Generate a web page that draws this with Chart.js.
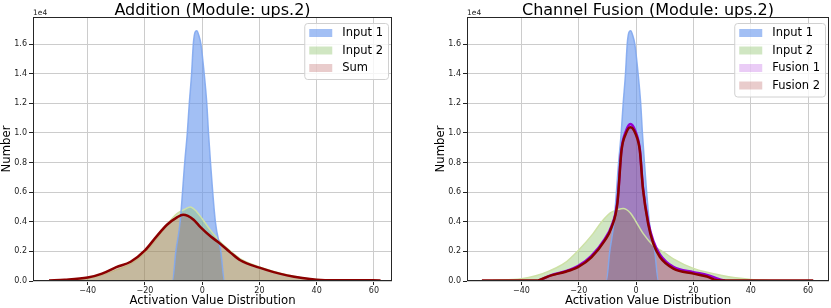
<!DOCTYPE html>
<html>
<head>
<meta charset="utf-8">
<script src="https://cdn.jsdelivr.net/npm/chart.js@4.4.1/dist/chart.umd.min.js"></script>
<style>
  html, body { margin: 0; padding: 0; background: #fff; }
  #wrap { position: relative; width: 831px; height: 308px; }
  .panel { position: absolute; top: 0; }
</style>
</head>
<body>
<div id="wrap">
  <div class="panel" style="left:0"><canvas id="chart-add" width="415" height="308"></canvas></div>
  <div class="panel" style="left:434px"><canvas id="chart-fusion" width="397" height="308"></canvas></div>
</div>
<script>
const xTicks = [-40, -20, 0, 20, 40, 60];
const yTicks = [0, 2000, 4000, 6000, 8000, 10000, 12000, 14000, 16000];

// Input 1 (same in both panels)
const input1X = [-40, -10.4, -9.2, -7.7, -6.1, -5.2, -4.5, -3.7, -3.1, -2.5, -1.9, -1.2, -0.45, 0.7, 1.6, 2.2, 2.9, 4.6, 6.5, 7.8, 40];
const input1Y = [0, 0, 2000, 4000, 8000, 10000, 12000, 14000, 16000, 16800, 16900, 16600, 16000, 14000, 12000, 10000, 8000, 4000, 2000, 0, 0];

// Addition panel
const addInput2X = [-48, -40, -35, -30, -25, -20, -16, -12.3, -8.8, -6, -4.2, -2, 0, 3, 6.3, 10, 13.3, 20, 25, 30, 35, 40, 45];
const addInput2Y = [30, 180, 400, 750, 1150, 1900, 2800, 3800, 4550, 4850, 5000, 4700, 4200, 3400, 2650, 2000, 1500, 950, 650, 400, 200, 100, 30];
const sumX = [-53.5, -48, -40, -35, -30, -25, -20, -16, -12.3, -8.8, -6.7, -5, -3, -0.6, 3, 6.3, 10, 13.3, 20, 25, 29.6, 35, 40, 46, 54, 62.3];
const sumY = [40, 80, 230, 500, 940, 1300, 2070, 3000, 3800, 4300, 4480, 4400, 4140, 3640, 3000, 2520, 1900, 1400, 900, 600, 380, 200, 90, 50, 50, 40];

// Channel fusion panel
const fusInput2X = [-50, -40, -35, -30, -25, -20, -15, -12, -9, -6, -4.5, -2, 0, 2.5, 6, 10, 13, 20, 30, 40, 47];
const fusInput2Y = [30, 150, 350, 700, 1200, 2100, 3200, 4000, 4600, 4850, 4900, 4600, 4000, 3200, 2400, 1900, 1500, 850, 370, 100, 20];
const fusion1X = [-34, -32, -29.6, -24.9, -20.3, -15.6, -10.9, -8.6, -6.5, -5.1, -3.6, -2, -0.2, 1.3, 2.4, 4.2, 6, 8.3, 13, 20, 25, 29, 31];
const fusion1Y = [30, 200, 400, 640, 1000, 1700, 2850, 3700, 5400, 8900, 10100, 10600, 10100, 8900, 6300, 4000, 2700, 1800, 950, 600, 400, 120, 30];
const fusion2X = [-53.8, -40, -34.3, -32, -29.6, -24.9, -20.3, -15.6, -10.9, -8.6, -6.5, -5.1, -3.6, -2, -0.2, 1.3, 2.4, 4.2, 6, 8.3, 13, 20, 24.7, 28.2, 35, 61.8];
const fusion2Y = [30, 30, 40, 200, 380, 610, 940, 1600, 2740, 3600, 5300, 8800, 9940, 10380, 9940, 8800, 6200, 3870, 2520, 1620, 840, 500, 300, 50, 30, 30];

const BLUE = 'rgba(100, 149, 237, 0.6)';
const GREEN = 'rgba(150, 200, 120, 0.45)';
const RED = 'rgba(165, 42, 42, 0.24)';
const VIOLET = 'rgba(148, 0, 211, 0.2)';

Chart.defaults.font.family = '"DejaVu Sans", sans-serif';

function pts(xs, ys) {
    return xs.map((x, i) => ({ x: x, y: ys[i] }));
}

function hist(label, xs, ys, color, order) {
    return {
        label: label, data: pts(xs, ys), order: order,
        fill: 'origin', backgroundColor: color,
        borderColor: 'rgba(0,0,0,0)', borderWidth: 0,
        pointRadius: 0, cubicInterpolationMode: 'monotone'
    };
}

function kde(xs, ys, color, width, order) {
    return {
        label: '', data: pts(xs, ys), order: order,
        fill: false, borderColor: color, borderWidth: width,
        pointRadius: 0, cubicInterpolationMode: 'monotone'
    };
}

function minus(v) {
    return v < 0 ? '\u2212' + Math.abs(v) : String(v);
}

// frame, offset text and boxed legend like matplotlib
const panelDecor = {
    id: 'panelDecor',
    afterDraw(chart, args, opts) {
        const ctx = chart.ctx;
        const a = chart.chartArea;
        ctx.save();
        ctx.strokeStyle = '#262626';
        ctx.lineWidth = 1;
        ctx.strokeRect(Math.round(a.left) + 0.5, Math.round(a.top) + 0.5,
            Math.round(a.right - a.left) - 1, Math.round(a.bottom - a.top) - 1);

        ctx.fillStyle = '#222';
        ctx.font = '7.5px "DejaVu Sans"';
        ctx.textAlign = 'left';
        ctx.textBaseline = 'alphabetic';
        ctx.fillText('1e4', a.left, a.top - 2);

        const items = opts.items;
        ctx.font = '11.5px "DejaVu Sans"';
        let tw = 0;
        items.forEach(it => { tw = Math.max(tw, ctx.measureText(it.label).width); });
        const w = 5 + 23 + 10 + tw + 5;
        const h = items.length * 17.5 + 3.5;
        const left = a.right - 4 - w;
        const top = a.top + 6;
        ctx.beginPath();
        ctx.roundRect(left + 0.5, top + 0.5, w, h, 3);
        ctx.fillStyle = 'rgba(255,255,255,0.8)';
        ctx.fill();
        ctx.strokeStyle = '#d0d0d0';
        ctx.stroke();
        ctx.textBaseline = 'middle';
        items.forEach((it, i) => {
            const cy = top + 10 + i * 17.5;
            ctx.fillStyle = it.color;
            ctx.fillRect(left + 5, cy - 4, 23, 8);
            ctx.fillStyle = '#000';
            ctx.fillText(it.label, left + 38, cy + 0.5);
        });
        ctx.restore();
    }
};

function makeOptions(title, xMin, xMax, padRight, items) {
    const tickFont = { size: 8 };
    return {
        responsive: false,
        animation: false,
        devicePixelRatio: 1,
        layout: { padding: { left: 0, right: padRight, top: 0, bottom: 0 } },
        plugins: {
            legend: { display: false },
            tooltip: { enabled: false },
            title: {
                display: true, text: title, color: '#000', fullSize: false,
                font: { size: 16, weight: 'normal', lineHeight: 0.8125 },
                padding: { top: 4, bottom: 0 }
            },
            panelDecor: { items: items }
        },
        scales: {
            x: {
                type: 'linear', min: xMin, max: xMax,
                afterBuildTicks: s => { s.ticks = xTicks.map(v => ({ value: v })); },
                afterFit: s => { s.height = 27; },
                border: { display: false },
                grid: { color: '#cccccc', tickColor: '#222', tickLength: 4 },
                ticks: { font: tickFont, color: '#222', padding: 1, autoSkip: false, maxRotation: 0, callback: v => minus(v) },
                title: { display: true, text: 'Activation Value Distribution', color: '#000', font: { size: 11.7 }, padding: 0 }
            },
            y: {
                min: 0, max: 17830,
                afterBuildTicks: s => { s.ticks = yTicks.map(v => ({ value: v })); },
                afterFit: s => { s.width = 33; },
                border: { display: false },
                grid: { color: '#cccccc', tickColor: '#222', tickLength: 4 },
                ticks: { font: tickFont, color: '#222', padding: 2, autoSkip: false, callback: v => (v / 1e4).toFixed(1) },
                title: { display: true, text: 'Number', color: '#000', font: { size: 11.7 }, padding: 0 }
            }
        }
    };
}

new Chart(document.getElementById('chart-add'), {
    type: 'line',
    data: {
        datasets: [
            hist('Input 1', input1X, input1Y, BLUE, 7),
            hist('Input 2', addInput2X, addInput2Y, GREEN, 6),
            kde(addInput2X, addInput2Y, 'rgba(205, 225, 165, 1)', 1.5, 5),
            hist('Sum', sumX, sumY, RED, 4),
            kde(input1X, input1Y, 'rgba(130, 168, 240, 0.9)', 1.5, 3),
            kde(sumX, sumY, '#8b0000', 2.5, 1)
        ]
    },
    options: makeOptions('Addition (Module: ups.2)', -59.1, 66.3, 23, [
        { label: 'Input 1', color: BLUE },
        { label: 'Input 2', color: GREEN },
        { label: 'Sum', color: RED }
    ]),
    plugins: [panelDecor]
});

new Chart(document.getElementById('chart-fusion'), {
    type: 'line',
    data: {
        datasets: [
            hist('Input 1', input1X, input1Y, BLUE, 9),
            hist('Input 2', fusInput2X, fusInput2Y, GREEN, 8),
            hist('Fusion 1', fusion1X, fusion1Y, VIOLET, 7),
            hist('Fusion 2', fusion2X, fusion2Y, RED, 6),
            kde(fusInput2X, fusInput2Y, 'rgba(205, 225, 165, 1)', 1.5, 5),
            kde(input1X, input1Y, 'rgba(130, 168, 240, 0.9)', 1.5, 4),
            kde(fusion1X, fusion1Y, '#9400d3', 2.5, 3),
            kde(fusion2X, fusion2Y, '#8b0000', 2.5, 1)
        ]
    },
    options: makeOptions('Channel Fusion (Module: ups.2)', -59.0, 67.3, 2, [
        { label: 'Input 1', color: BLUE },
        { label: 'Input 2', color: GREEN },
        { label: 'Fusion 1', color: VIOLET },
        { label: 'Fusion 2', color: RED }
    ]),
    plugins: [panelDecor]
});
</script>
</body>
</html>
